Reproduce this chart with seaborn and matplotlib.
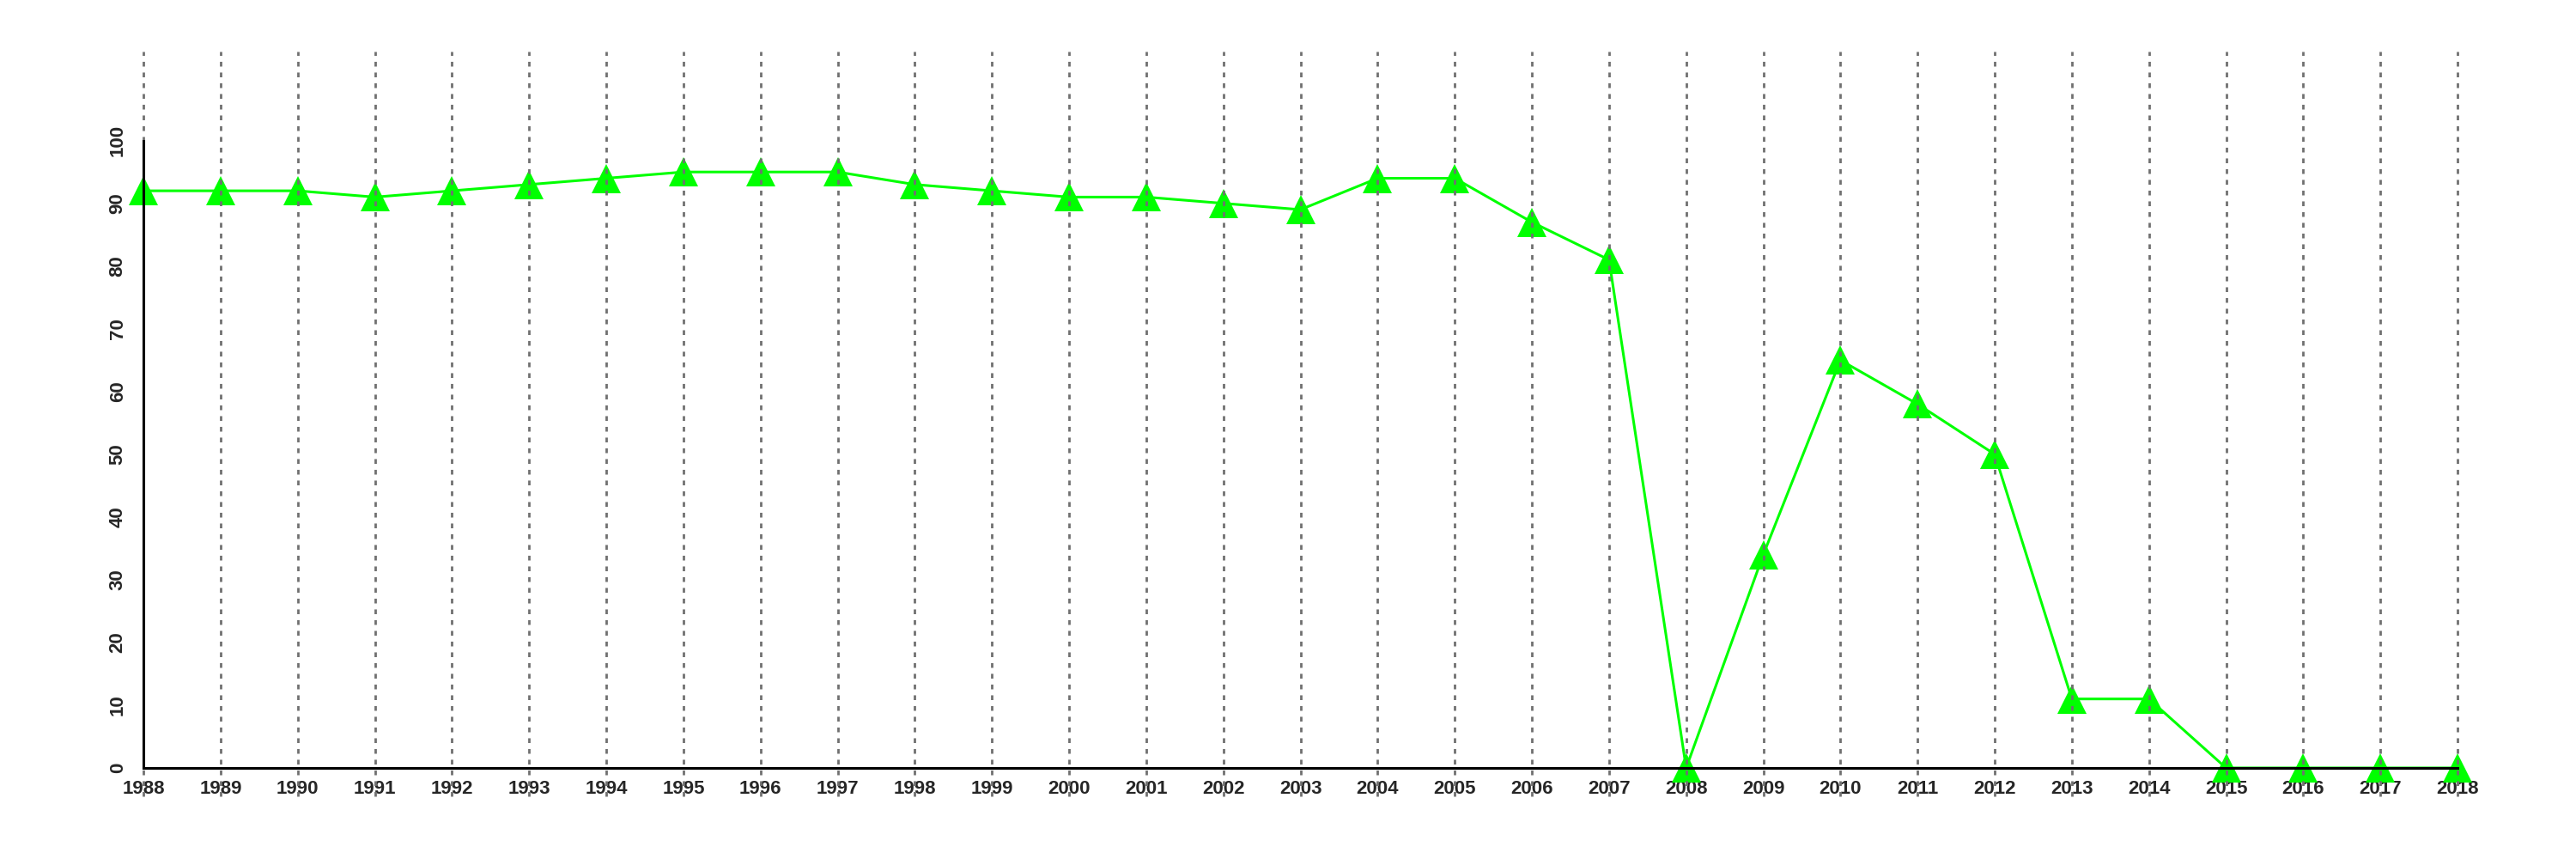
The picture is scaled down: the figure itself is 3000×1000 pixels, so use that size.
import numpy as np
import pandas as pd
import matplotlib
matplotlib.use("Agg")
import matplotlib.pyplot as plt
import seaborn as sns

# ==================================================
# DATA
# ==================================================
years = list(range(1988, 2019))
values = [92, 92, 92, 91, 92, 93, 94, 95, 95, 95,
          93, 92, 91, 91, 90, 89, 94, 94, 87, 81,
          0, 34, 65, 58, 50, 11, 11, 0, 0, 0, 0]
y_ticks = list(range(0, 101, 10))

df = pd.DataFrame({"year": years, "value": values})

# ==================================================
# STYLE
# ==================================================
sns.set_style("white")
plt.rcParams["font.family"] = ["Liberation Sans", "DejaVu Sans"]
plt.rcParams["font.weight"] = "bold"

fig = plt.figure(figsize=(30, 10), dpi=100)
ax = fig.add_axes([0.0557, 0.106, 0.8983, 0.834])

# dotted vertical guides at every year, running past the plot box
ax.vlines(years, -4.5, 114.2, colors="#707070", linestyles=(0, (2, 2.5)),
          linewidth=2, clip_on=False, zorder=3)

sns.lineplot(data=df, x="year", y="value", ax=ax, color="#00FF00",
             linewidth=2.2, marker="^", markersize=25, markeredgewidth=0,
             clip_on=False, zorder=2)

ax.set_xlim(1988, 2018)
ax.set_ylim(0, 114.2)
ax.set_xticks(years)
ax.set_yticks(y_ticks)
ax.set_xlabel("")
ax.set_ylabel("")

for side in ["top", "right"]:
    ax.spines[side].set_visible(False)
ax.spines["left"].set_bounds(0, 100)
ax.spines["bottom"].set_bounds(1988, 2018)
for side in ["left", "bottom"]:
    ax.spines[side].set_linewidth(2.2)
    ax.spines[side].set_color("black")
    ax.spines[side].set_zorder(4)

ax.tick_params(axis="both", direction="out", length=8, width=2.2,
               labelsize=16, color="black", pad=2)
ax.tick_params(axis="y", pad=6)
for lab in ax.get_yticklabels():
    lab.set_rotation(90)
    lab.set_va("center")
for lab in ax.get_xticklabels() + ax.get_yticklabels():
    lab.set_fontweight("bold")

fig.savefig("out.png", dpi=100)
